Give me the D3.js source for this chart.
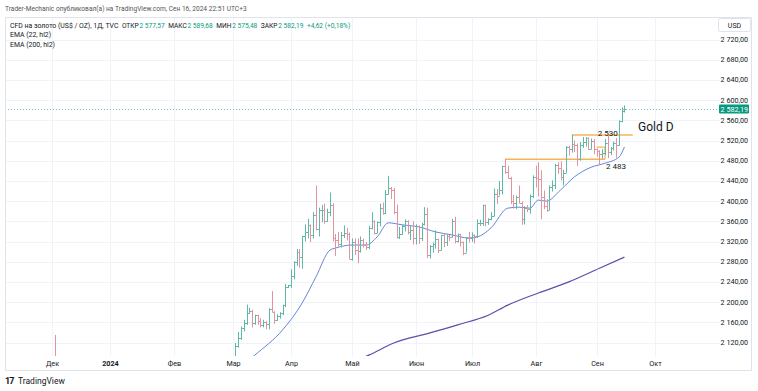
<!DOCTYPE html>
<html>
<head>
<meta charset="utf-8">
<script src="https://cdn.jsdelivr.net/npm/d3@7"></script>
<style>
  html, body { margin: 0; padding: 0; background: #fff; }
  svg { display: block; font-family: Roboto, "Noto Sans", sans-serif; }
</style>
</head>
<body>
<div id="chart"></div>
<script>
// session range (weekdays) used for the bar index axis
const sessionStart = "2023-12-01";
const sessionEnd = "2024-10-02";

const monthLabels = ["Дек", "2024", "Фев", "Мар", "Апр", "Май", "Июн", "Июл", "Авг", "Сен", "Окт"];
const priceTicks = d3.range(2120, 2721, 40);

// daily bars: date, open, high, low, close
const bars = [
  ["2023-12-04", 2072, 2135, 2015, 2030],
  ["2024-03-01", 2044, 2088, 2038, 2083], ["2024-03-04", 2083, 2119, 2079, 2114], ["2024-03-05", 2114, 2141, 2110, 2128],
  ["2024-03-06", 2128, 2152, 2125, 2148], ["2024-03-07", 2148, 2165, 2142, 2159], ["2024-03-08", 2159, 2195, 2155, 2179],
  ["2024-03-11", 2179, 2189, 2177, 2182], ["2024-03-12", 2182, 2185, 2150, 2158], ["2024-03-13", 2158, 2175, 2155, 2174],
  ["2024-03-14", 2174, 2175, 2155, 2162], ["2024-03-15", 2162, 2168, 2150, 2155], ["2024-03-18", 2155, 2165, 2150, 2160],
  ["2024-03-19", 2160, 2163, 2146, 2157], ["2024-03-20", 2157, 2188, 2146, 2186], ["2024-03-21", 2186, 2222, 2180, 2181],
  ["2024-03-22", 2181, 2182, 2157, 2165], ["2024-03-25", 2165, 2176, 2163, 2172], ["2024-03-26", 2172, 2180, 2167, 2178],
  ["2024-03-27", 2178, 2195, 2174, 2195], ["2024-03-28", 2195, 2236, 2190, 2230], ["2024-03-29", 2230, 2234, 2228, 2233],
  ["2024-04-01", 2233, 2265, 2228, 2251], ["2024-04-02", 2251, 2281, 2245, 2280], ["2024-04-03", 2280, 2305, 2272, 2300],
  ["2024-04-04", 2300, 2305, 2268, 2290], ["2024-04-05", 2290, 2331, 2266, 2330], ["2024-04-08", 2330, 2354, 2320, 2339],
  ["2024-04-09", 2339, 2365, 2326, 2352], ["2024-04-10", 2352, 2354, 2319, 2333], ["2024-04-11", 2333, 2378, 2326, 2372],
  ["2024-04-12", 2372, 2431, 2342, 2344], ["2024-04-15", 2344, 2387, 2330, 2383], ["2024-04-16", 2383, 2392, 2358, 2383],
  ["2024-04-17", 2383, 2395, 2355, 2361], ["2024-04-18", 2361, 2385, 2359, 2379], ["2024-04-19", 2379, 2417, 2370, 2392],
  ["2024-04-22", 2392, 2396, 2320, 2327], ["2024-04-23", 2327, 2335, 2291, 2322], ["2024-04-24", 2322, 2339, 2310, 2316],
  ["2024-04-25", 2316, 2339, 2308, 2332], ["2024-04-26", 2332, 2352, 2327, 2337], ["2024-04-29", 2337, 2347, 2322, 2335],
  ["2024-04-30", 2335, 2338, 2285, 2286],
  ["2024-05-01", 2286, 2326, 2282, 2320], ["2024-05-02", 2320, 2326, 2293, 2303], ["2024-05-03", 2303, 2326, 2277, 2301],
  ["2024-05-06", 2301, 2330, 2298, 2323], ["2024-05-07", 2323, 2326, 2308, 2314], ["2024-05-08", 2314, 2319, 2303, 2309],
  ["2024-05-09", 2309, 2351, 2305, 2346], ["2024-05-10", 2346, 2378, 2344, 2360], ["2024-05-13", 2360, 2362, 2334, 2336],
  ["2024-05-14", 2336, 2360, 2336, 2358], ["2024-05-15", 2358, 2395, 2350, 2386], ["2024-05-16", 2386, 2397, 2373, 2376],
  ["2024-05-17", 2376, 2422, 2374, 2415], ["2024-05-20", 2415, 2450, 2413, 2425], ["2024-05-21", 2425, 2428, 2404, 2421],
  ["2024-05-22", 2421, 2426, 2374, 2379], ["2024-05-23", 2379, 2393, 2326, 2329], ["2024-05-24", 2329, 2349, 2325, 2334],
  ["2024-05-27", 2334, 2353, 2333, 2350], ["2024-05-28", 2350, 2364, 2340, 2360], ["2024-05-29", 2360, 2362, 2334, 2338],
  ["2024-05-30", 2338, 2351, 2323, 2343], ["2024-05-31", 2343, 2360, 2314, 2327],
  ["2024-06-03", 2327, 2354, 2314, 2350], ["2024-06-04", 2350, 2352, 2315, 2326], ["2024-06-05", 2326, 2357, 2321, 2355],
  ["2024-06-06", 2355, 2388, 2352, 2375], ["2024-06-07", 2375, 2387, 2287, 2293], ["2024-06-10", 2293, 2313, 2286, 2311],
  ["2024-06-11", 2311, 2318, 2298, 2316], ["2024-06-12", 2316, 2342, 2306, 2324], ["2024-06-13", 2324, 2326, 2297, 2303],
  ["2024-06-14", 2303, 2333, 2303, 2333], ["2024-06-17", 2333, 2335, 2309, 2319], ["2024-06-18", 2319, 2335, 2311, 2330],
  ["2024-06-19", 2330, 2333, 2321, 2328], ["2024-06-20", 2328, 2365, 2328, 2360], ["2024-06-21", 2360, 2369, 2316, 2321],
  ["2024-06-24", 2321, 2336, 2318, 2334], ["2024-06-25", 2334, 2335, 2310, 2319], ["2024-06-26", 2319, 2320, 2293, 2298],
  ["2024-06-27", 2298, 2329, 2298, 2327], ["2024-06-28", 2327, 2339, 2318, 2326],
  ["2024-07-01", 2326, 2338, 2319, 2332], ["2024-07-02", 2332, 2334, 2316, 2330], ["2024-07-03", 2330, 2364, 2327, 2356],
  ["2024-07-04", 2356, 2363, 2351, 2356], ["2024-07-05", 2356, 2393, 2351, 2392], ["2024-07-08", 2392, 2393, 2350, 2358],
  ["2024-07-09", 2358, 2366, 2353, 2364], ["2024-07-10", 2364, 2378, 2362, 2371], ["2024-07-11", 2371, 2425, 2370, 2415],
  ["2024-07-12", 2415, 2424, 2394, 2411], ["2024-07-15", 2411, 2440, 2411, 2422], ["2024-07-16", 2422, 2470, 2413, 2469],
  ["2024-07-17", 2469, 2483, 2454, 2458], ["2024-07-18", 2458, 2470, 2445, 2445], ["2024-07-19", 2445, 2448, 2394, 2400],
  ["2024-07-22", 2400, 2412, 2385, 2396], ["2024-07-23", 2396, 2411, 2384, 2409], ["2024-07-24", 2409, 2431, 2396, 2397],
  ["2024-07-25", 2397, 2399, 2353, 2364], ["2024-07-26", 2364, 2390, 2354, 2387], ["2024-07-29", 2387, 2392, 2378, 2384],
  ["2024-07-30", 2384, 2413, 2375, 2410], ["2024-07-31", 2410, 2451, 2406, 2448],
  ["2024-08-01", 2448, 2470, 2427, 2446], ["2024-08-02", 2446, 2477, 2409, 2443], ["2024-08-05", 2443, 2461, 2364, 2409],
  ["2024-08-06", 2409, 2421, 2384, 2390], ["2024-08-07", 2390, 2404, 2379, 2383], ["2024-08-08", 2383, 2431, 2382, 2427],
  ["2024-08-09", 2427, 2441, 2419, 2431], ["2024-08-12", 2431, 2474, 2424, 2472], ["2024-08-13", 2472, 2477, 2454, 2465],
  ["2024-08-14", 2465, 2479, 2441, 2447], ["2024-08-15", 2447, 2462, 2431, 2456], ["2024-08-16", 2456, 2509, 2456, 2507],
  ["2024-08-19", 2507, 2510, 2490, 2504], ["2024-08-20", 2504, 2531, 2496, 2513], ["2024-08-21", 2513, 2520, 2497, 2512],
  ["2024-08-22", 2512, 2514, 2470, 2484], ["2024-08-23", 2484, 2517, 2480, 2512], ["2024-08-26", 2512, 2527, 2505, 2518],
  ["2024-08-27", 2518, 2527, 2508, 2524], ["2024-08-28", 2524, 2526, 2502, 2504], ["2024-08-29", 2504, 2524, 2503, 2520],
  ["2024-08-30", 2520, 2523, 2493, 2503],
  ["2024-09-02", 2503, 2504, 2488, 2500], ["2024-09-03", 2500, 2501, 2472, 2493], ["2024-09-04", 2493, 2503, 2484, 2495],
  ["2024-09-05", 2495, 2523, 2491, 2516], ["2024-09-06", 2516, 2529, 2485, 2497], ["2024-09-09", 2497, 2507, 2491, 2506],
  ["2024-09-10", 2506, 2518, 2500, 2516], ["2024-09-11", 2516, 2525, 2486, 2512], ["2024-09-12", 2512, 2560, 2510, 2558],
  ["2024-09-13", 2558, 2586, 2556, 2578], ["2024-09-16", 2577.57, 2589.68, 2575.48, 2582.19]
];

// EMA values
const ema22 = [
  ["2024-03-01", 2058], ["2024-03-13", 2095], ["2024-03-27", 2145], ["2024-04-05", 2198], ["2024-04-12", 2250],
  ["2024-04-19", 2303], ["2024-04-23", 2307], ["2024-05-01", 2313], ["2024-05-08", 2313], ["2024-05-14", 2329],
  ["2024-05-20", 2357], ["2024-05-27", 2353], ["2024-06-04", 2349], ["2024-06-12", 2339], ["2024-06-20", 2333],
  ["2024-06-28", 2327], ["2024-07-03", 2329], ["2024-07-10", 2347], ["2024-07-18", 2386], ["2024-07-24", 2388],
  ["2024-07-30", 2386], ["2024-08-02", 2402], ["2024-08-07", 2400], ["2024-08-14", 2422], ["2024-08-21", 2448],
  ["2024-08-29", 2467], ["2024-09-05", 2475], ["2024-09-12", 2487], ["2024-09-16", 2507]
];
const ema200 = [
  ["2024-05-01", 2082], ["2024-05-09", 2095], ["2024-05-22", 2119], ["2024-06-10", 2139], ["2024-06-24", 2155],
  ["2024-07-09", 2174], ["2024-07-18", 2194], ["2024-08-02", 2218], ["2024-08-19", 2240], ["2024-09-03", 2267],
  ["2024-09-16", 2289]
];

// horizontal levels drawn by the author: [from, to, price]
const levels = [
  ["2024-07-17", "2024-09-05", 2483],
  ["2024-08-20", "2024-09-19", 2531]
];
// small bracket drawn near the last consolidation
const bracket = [["2024-09-02", 2507], ["2024-09-05", 2507], ["2024-09-05", 2483]];
const levelLabels = [["2024-09-06", 2531, "2 530", 1.5], ["2024-09-11", 2483, "2 483", 9.5]];

const lastPrice = 2582.19;
const legendItems = [["ОТКР", "2 577,57"], ["МАКС", "2 589,68"], ["МИН", "2 575,48"], ["ЗАКР", "2 582,19"]];
const changeText = "+4,62 (+0,18%)";

const W = 758, H = 391;
const frame = { left: 5, top: 17, right: 752, bottom: 371 };
const plot = { left: 5, top: 17, right: 720, bottom: 356 };

const parse = d3.timeParse("%Y-%m-%d");
const fmt = d3.timeFormat("%Y-%m-%d");
const sessions = d3.timeDay.range(parse(sessionStart), parse(sessionEnd)).filter(d => d.getDay() % 6 !== 0);
const indexOf = new Map(sessions.map((d, i) => [fmt(d), i]));

const firstOfMonth = [];
sessions.forEach((d, i) => {
  if (i === 0 || d.getMonth() !== sessions[i - 1].getMonth()) firstOfMonth.push(i);
});

const x = d3.scaleLinear().domain([0, firstOfMonth[10]]).range([52, 655]);
const y = d3.scaleLinear().domain([2120, 2720]).range([342.5, 39.5]);
const px = v => Math.round(x(v)) + 0.5;
const priceFmt = v => d3.format(",.2f")(v).replace(",", " ").replace(".", ",");

const svg = d3.select("#chart").append("svg").attr("width", W).attr("height", H);

svg.append("text").attr("x", 5).attr("y", 10.5).attr("font-size", 6.6).attr("fill", "#555")
  .text("Trader-Mechanic опубликовал(а) на TradingView.com, Сен 16, 2024 22:51 UTC+3");

svg.append("rect")
  .attr("x", frame.left + 0.5).attr("y", frame.top + 0.5)
  .attr("width", frame.right - frame.left - 1).attr("height", frame.bottom - frame.top - 1)
  .attr("fill", "none").attr("stroke", "#e0e3eb");

svg.append("clipPath").attr("id", "clip").append("rect")
  .attr("x", plot.left + 1).attr("y", plot.top + 1)
  .attr("width", plot.right - plot.left - 1).attr("height", plot.bottom - plot.top - 1);

const grid = svg.append("g").attr("clip-path", "url(#clip)");
grid.selectAll(".hg").data(priceTicks).join("line")
  .attr("x1", plot.left).attr("x2", plot.right)
  .attr("y1", d => Math.round(y(d)) + 0.5).attr("y2", d => Math.round(y(d)) + 0.5)
  .attr("stroke", "#f0f3fa");
grid.selectAll(".vg").data(firstOfMonth).join("line")
  .attr("x1", d => px(d)).attr("x2", d => px(d))
  .attr("y1", plot.top).attr("y2", plot.bottom)
  .attr("stroke", "#f0f3fa");

// legend, laid out left to right
const legend = svg.append("g").attr("font-size", 6.9).attr("fill", "#131722");
let cursor = 10;
function put(t, fill, size, gapAfter) {
  const el = legend.append("text").attr("x", cursor).attr("y", 27.5).attr("font-size", size).text(t);
  if (fill) el.attr("fill", fill);
  cursor += el.node().getComputedTextLength() + gapAfter;
}
put("CFD на золото (US$ / OZ), 1Д, TVC", null, 6.9, 3.5);
legendItems.forEach(([k, v]) => {
  put(k, null, 6.6, 0.8);
  put(v, "#089981", 6.6, 3.5);
});
put(changeText, "#089981", 6.6, 0);
legend.append("text").attr("x", 10).attr("y", 37).text("EMA (22, hl2)");
legend.append("text").attr("x", 10).attr("y", 46.5).text("EMA (200, hl2)");

const g = svg.append("g").attr("clip-path", "url(#clip)");

// last price line
g.append("line")
  .attr("x1", plot.left).attr("x2", plot.right)
  .attr("y1", Math.round(y(lastPrice)) + 0.5).attr("y2", Math.round(y(lastPrice)) + 0.5)
  .attr("stroke", "#089981").attr("stroke-width", 0.8).attr("stroke-dasharray", "1,2").attr("opacity", 0.7);

// EMA lines
const emaLine = d3.line().x(d => x(indexOf.get(d[0]))).y(d => y(d[1])).curve(d3.curveMonotoneX);
g.append("path").datum(ema200).attr("d", emaLine)
  .attr("fill", "none").attr("stroke", "#5e4fa8").attr("stroke-width", 1.2);
g.append("path").datum(ema22).attr("d", emaLine)
  .attr("fill", "none").attr("stroke", "#6585d6").attr("stroke-width", 1);

// author levels
g.selectAll(".lvl").data(levels).join("line")
  .attr("x1", d => x(indexOf.get(d[0]))).attr("x2", d => x(indexOf.get(d[1])))
  .attr("y1", d => y(d[2])).attr("y2", d => y(d[2]))
  .attr("stroke", "#f7b454").attr("stroke-width", 1.6);
g.append("path").datum(bracket)
  .attr("d", d3.line().x(d => x(indexOf.get(d[0]))).y(d => y(d[1])))
  .attr("fill", "none").attr("stroke", "#f7b454").attr("stroke-width", 1.2);

// OHLC bars
const upCol = "#5fb9a9", downCol = "#e2939e";
const bg = g.append("g");
bars.forEach(([d, o, h, l, c]) => {
  const i = indexOf.get(d);
  const cx = px(i);
  const col = c >= o ? upCol : downCol;
  const b = bg.append("g").attr("stroke", col).attr("stroke-width", 1);
  b.append("line").attr("x1", cx).attr("x2", cx).attr("y1", y(h)).attr("y2", y(l));
  b.append("line").attr("x1", cx - 1.5).attr("x2", cx).attr("y1", Math.round(y(o)) + 0.5).attr("y2", Math.round(y(o)) + 0.5);
  b.append("line").attr("x1", cx).attr("x2", cx + 1.5).attr("y1", Math.round(y(c)) + 0.5).attr("y2", Math.round(y(c)) + 0.5);
});

// level labels and annotation
levelLabels.forEach(([d, p, t, dy]) => {
  svg.append("text").attr("x", x(indexOf.get(d))).attr("y", y(p) + dy)
    .attr("font-size", 8).attr("fill", "#131722").attr("text-anchor", "middle").text(t);
});
svg.append("text").attr("x", 638).attr("y", 131).attr("font-size", 12).attr("fill", "#131722").text("Gold D");

// price axis
svg.selectAll(".pt").data(priceTicks).join("text")
  .attr("x", 748).attr("y", d => y(d) + 2.5)
  .attr("text-anchor", "end").attr("font-size", 7.2).attr("fill", "#131722")
  .text(priceFmt);

svg.append("rect").attr("x", 718.5).attr("y", 18.5).attr("width", 32).attr("height", 13).attr("rx", 2)
  .attr("fill", "#fff").attr("stroke", "#e0e3eb");
svg.append("text").attr("x", 734.5).attr("y", 27.5).attr("text-anchor", "middle")
  .attr("font-size", 7).attr("fill", "#131722").text("USD");

const ly = y(lastPrice);
svg.append("rect").attr("x", 719).attr("y", ly - 4.5).attr("width", 30).attr("height", 9).attr("rx", 1).attr("fill", "#089981");
svg.append("text").attr("x", 748).attr("y", ly + 2.5).attr("text-anchor", "end")
  .attr("font-size", 7.2).attr("fill", "#fff").text(priceFmt(lastPrice));

// time axis
svg.selectAll(".mt").data(firstOfMonth).join("text")
  .attr("x", d => px(d)).attr("y", 366)
  .attr("text-anchor", "middle").attr("font-size", 7.2).attr("fill", "#131722")
  .attr("font-weight", (d, i) => monthLabels[i] === "2024" ? "bold" : null)
  .text((d, i) => monthLabels[i]);

// footer logo
svg.append("text").attr("x", 5).attr("y", 384).attr("font-size", 9).attr("font-weight", "bold")
  .attr("fill", "#131722").attr("letter-spacing", -1).text("17");
svg.append("text").attr("x", 18).attr("y", 384).attr("font-size", 8.5).attr("fill", "#131722").text("TradingView");
</script>
</body>
</html>
